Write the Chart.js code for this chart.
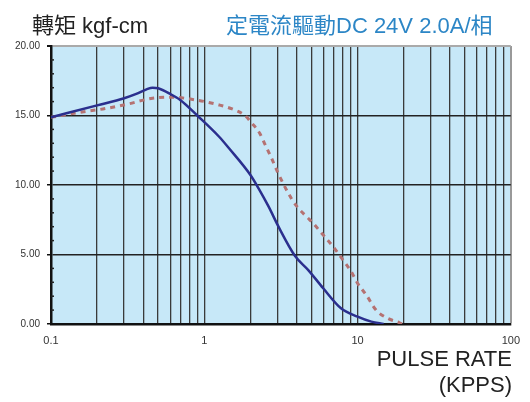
<!DOCTYPE html>
<html>
<head>
<meta charset="utf-8">
<script src="https://cdn.jsdelivr.net/npm/chart.js@4/dist/chart.umd.min.js"></script>
<style>
  body { margin: 0; background: #fff; }
  #wrap { position: relative; width: 530px; height: 402px; }
  .txt { position: absolute; font-family: "Liberation Sans", Arial, "Noto Sans CJK TC", sans-serif; white-space: nowrap; }
  #ytitle { left: 32px; top: 7px; font-size: 22px; color: #222; }
  #cond { left: 226px; top: 7px; font-size: 22px; color: #2c86c6; }
  #xtitle { right: 18px; top: 346px; font-size: 22px; color: #222; text-align: right; line-height: 26px; }
</style>
</head>
<body>
<div id="wrap">
  <canvas id="torque-chart" width="530" height="402"></canvas>
  <div class="txt" id="ytitle">轉矩 kgf-cm</div>
  <div class="txt" id="cond">定電流驅動DC 24V 2.0A/相</div>
  <div class="txt" id="xtitle">PULSE RATE<br>(KPPS)</div>
</div>
<script>
// pulse rate (kpps) and torque (kgf-cm)
const solidX = [0.1, 0.2, 0.3, 0.36, 0.42, 0.46, 0.5, 0.6, 0.7, 0.9, 1.25, 1.45, 2.0, 2.26, 2.63, 3.05, 3.91, 4.77, 5.97, 7.8, 10, 12.3, 14.8];
const solidY = [14.87, 15.73, 16.24, 16.55, 16.88, 17.0, 16.96, 16.55, 16.1, 15.0, 13.47, 12.64, 10.72, 9.76, 8.44, 7.0, 4.89, 3.88, 2.57, 1.13, 0.53, 0.17, 0];

const dotX = [0.1, 0.154, 0.218, 0.31, 0.46, 0.62, 0.9, 1.25, 1.52, 1.85, 2.03, 2.3, 2.5, 2.73, 3.02, 3.37, 3.72, 4.06, 4.65, 5.14, 5.97, 6.93, 8.04, 9.1, 10, 11.4, 13.2, 15.7, 18.7, 19.5];
const dotY = [14.87, 15.23, 15.47, 15.8, 16.24, 16.31, 16.1, 15.76, 15.47, 14.99, 14.48, 13.72, 12.88, 12.0, 10.89, 9.83, 8.99, 8.4, 7.72, 7.24, 6.4, 5.56, 4.6, 3.76, 2.93, 2.09, 1.0, 0.41, 0.1, 0];

const xTicks = [0.1, 0.2, 0.3, 0.4, 0.5, 0.6, 0.7, 0.8, 0.9, 1, 2, 3, 4, 5, 6, 7, 8, 9, 10, 20, 30, 40, 50, 60, 70, 80, 90, 100];
const xLabels = [0.1, 1, 10, 100];
const yLabels = [0, 5, 10, 15, 20];

const toPoints = (xs, ys) => xs.map((x, i) => ({ x: x, y: ys[i] }));

const plotBg = {
  id: "plotBg",
  beforeDraw(chart) {
    const { ctx, chartArea: a } = chart;
    ctx.save();
    ctx.fillStyle = "#c7e8f8";
    ctx.fillRect(a.left, a.top, a.right - a.left, a.bottom - a.top);
    ctx.restore();
  },
};

// small minor ticks just inside the y axis
const minorTicks = {
  id: "minorTicks",
  afterDraw(chart) {
    const { ctx, chartArea: a, scales } = chart;
    ctx.save();
    ctx.strokeStyle = "#222";
    ctx.lineWidth = 1.5;
    for (let v = 1; v < 20; v++) {
      if (v % 5 === 0) continue;
      const y = scales.y.getPixelForValue(v);
      ctx.beginPath();
      ctx.moveTo(a.left, y);
      ctx.lineTo(a.left + 3, y);
      ctx.stroke();
    }
    ctx.restore();
  },
};

new Chart(document.getElementById("torque-chart"), {
  type: "scatter",
  data: {
    datasets: [
      {
        data: toPoints(solidX, solidY),
        showLine: true,
        borderColor: "#2b2f8e",
        borderWidth: 2.5,
        pointRadius: 0,
        cubicInterpolationMode: "monotone",
      },
      {
        data: toPoints(dotX, dotY),
        showLine: true,
        borderColor: "#b57272",
        borderWidth: 3,
        borderDash: [5, 5],
        pointRadius: 0,
        cubicInterpolationMode: "monotone",
      },
    ],
  },
  options: {
    responsive: false,
    animation: false,
    layout: { padding: { top: 46, right: 16, left: 0, bottom: 0 } },
    plugins: { legend: { display: false }, tooltip: { enabled: false } },
    scales: {
      x: {
        type: "logarithmic",
        min: 0.1,
        max: 100,
        afterBuildTicks: (scale) => {
          scale.ticks = xTicks.map((v) => ({ value: v }));
        },
        afterFit: (scale) => {
          scale.height = 78;
        },
        ticks: {
          autoSkip: false,
          maxRotation: 0,
          padding: 10,
          color: "#333",
          font: { family: "Liberation Sans", size: 11 },
          callback: (v) => (xLabels.includes(v) ? String(v) : ""),
        },
        grid: {
          drawTicks: false,
          color: (c) => (c.tick && c.tick.value === 100 ? "#999" : "#3a3a3a"),
          lineWidth: (c) => (c.tick && c.tick.value === 100 ? 2 : 1.3),
        },
        border: { color: "#111", width: 2.5 },
      },
      y: {
        min: 0,
        max: 20,
        afterFit: (scale) => {
          scale.width = 51;
        },
        ticks: {
          stepSize: 5,
          padding: 7,
          color: "#333",
          font: { family: "Liberation Sans", size: 10 },
          callback: (v) => (yLabels.includes(v) ? v.toFixed(2) : ""),
        },
        grid: {
          tickLength: 4,
          tickColor: "#111",
          color: (c) => (c.tick && c.tick.value === 20 ? "#aaa" : "#222"),
          lineWidth: (c) => (c.tick && c.tick.value === 20 ? 2 : 1.5),
        },
        border: { color: "#111", width: 2.5 },
      },
    },
  },
  plugins: [plotBg, minorTicks],
});
</script>
</body>
</html>
